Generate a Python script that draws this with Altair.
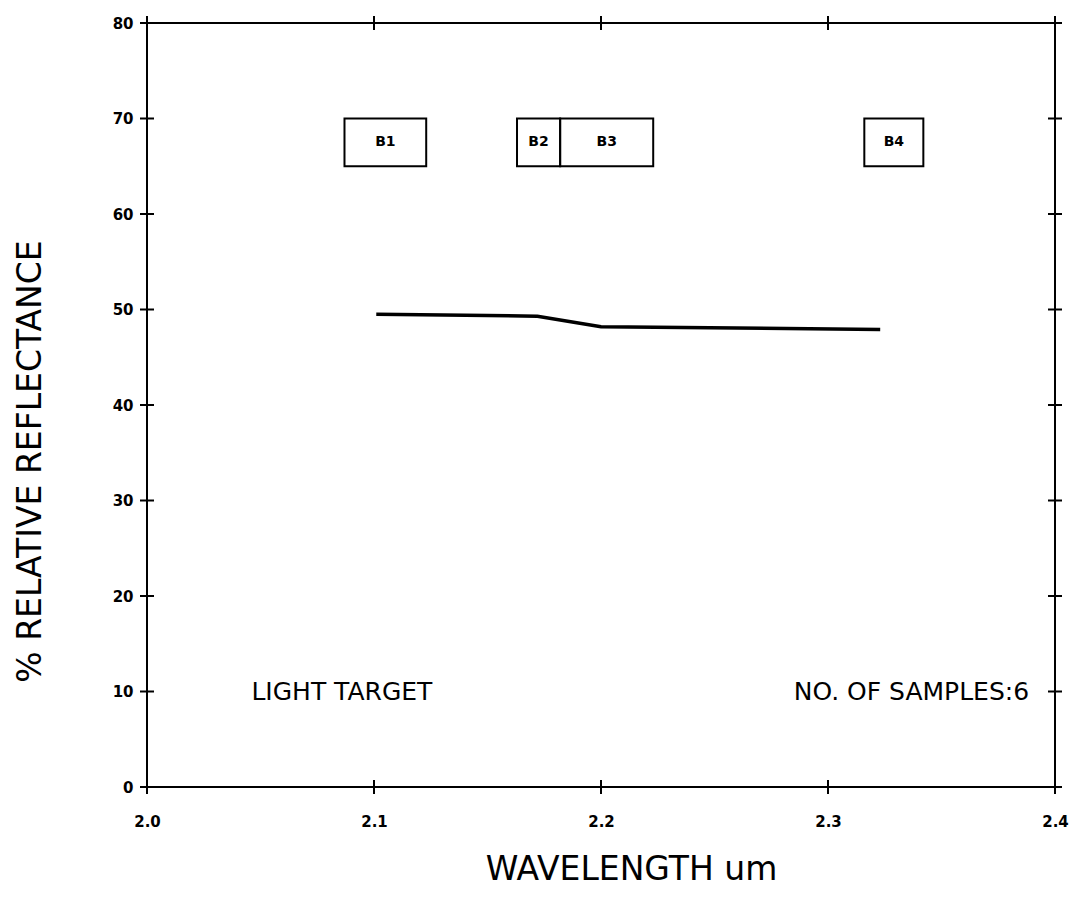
import altair as alt
import pandas as pd

# spectrum (wavelength in um, % relative reflectance)
wavelength = [2.101, 2.172, 2.200, 2.323]
reflectance = [49.5, 49.3, 48.2, 47.9]

# band boxes
band_names = ["B1", "B2", "B3", "B4"]
band_start = [2.087, 2.163, 2.182, 2.316]
band_end = [2.123, 2.182, 2.223, 2.342]
band_low = [65, 65, 65, 65]
band_high = [70, 70, 70, 70]

# annotations
left_note = ["LIGHT TARGET"]
left_note_x = [2.046]
left_note_y = [10]
right_note = ["NO. OF SAMPLES:6"]
right_note_x = [2.3886]
right_note_y = [10]

# axes
x_ticks = [2.0, 2.1, 2.2, 2.3, 2.4]
y_ticks = [0, 10, 20, 30, 40, 50, 60, 70, 80]
x_domain = [2.0, 2.4]
y_domain = [0, 80]

FONT = "DejaVu Sans"

line_df = pd.DataFrame({"x": wavelength, "y": reflectance})
band_df = pd.DataFrame({
    "name": band_names, "x": band_start, "x2": band_end,
    "y": band_low, "y2": band_high,
})
band_df["xc"] = (band_df["x"] + band_df["x2"]) / 2
band_df["yc"] = (band_df["y"] + band_df["y2"]) / 2
left_df = pd.DataFrame({"text": left_note, "x": left_note_x, "y": left_note_y})
right_df = pd.DataFrame({"text": right_note, "x": right_note_x, "y": right_note_y})

lr_ticks = pd.DataFrame(
    [{"x": xv, "y": yv} for yv in y_ticks for xv in (x_domain[0], x_domain[1])]
)
tb_ticks = pd.DataFrame(
    [{"x": xv, "y": yv} for xv in x_ticks for yv in (y_domain[0], y_domain[1])]
)

x_scale = alt.Scale(domain=x_domain, nice=False, zero=False)
y_scale = alt.Scale(domain=y_domain, nice=False, zero=False)

x_axis = alt.Axis(
    values=x_ticks, format=".1f", tickSize=0, domain=False, grid=False,
    labelFont=FONT, labelFontSize=15, labelFontWeight="bold", labelColor="black",
    labelPadding=27, labelFlush=False,
    title="WAVELENGTH um", titleFont=FONT, titleFontSize=33, titleFontWeight="normal",
    titleColor="black", titleX=484, titleY=92, titleAlign="center",
    titleBaseline="alphabetic",
)
y_axis = alt.Axis(
    values=y_ticks, format="d", tickSize=0, domain=False, grid=False,
    labelFont=FONT, labelFontSize=15, labelFontWeight="bold", labelColor="black",
    labelPadding=14, labelFlush=False,
    title="% RELATIVE REFLECTANCE", titleFont=FONT, titleFontSize=33,
    titleFontWeight="normal", titleColor="black", titleX=-117, titleY=438,
    titleAngle=270, titleAlign="center", titleBaseline="middle",
)


def X(field="x"):
    return alt.X(f"{field}:Q", scale=x_scale, axis=x_axis)


def Y(field="y"):
    return alt.Y(f"{field}:Q", scale=y_scale, axis=y_axis)


line = alt.Chart(line_df).mark_line(color="black", strokeWidth=3.5).encode(
    x=X(), y=Y()
)

boxes = alt.Chart(band_df).mark_rect(
    fill="white", fillOpacity=0, stroke="black", strokeWidth=2
).encode(x=X(), x2="x2:Q", y=Y(), y2="y2:Q")

box_labels = alt.Chart(band_df).mark_text(
    font=FONT, fontSize=14, fontWeight="bold", color="black",
    align="center", baseline="middle",
).encode(x=X("xc"), y=Y("yc"), text="name:N")

notes_left = alt.Chart(left_df).mark_text(
    font=FONT, fontSize=25, color="black", baseline="middle", align="left",
).encode(x=X(), y=Y(), text="text:N")

notes_right = alt.Chart(right_df).mark_text(
    font=FONT, fontSize=25, color="black", baseline="middle", align="right",
).encode(x=X(), y=Y(), text="text:N")

ticks_lr = alt.Chart(lr_ticks).mark_tick(
    orient="horizontal", size=14, thickness=2, color="black", opacity=1
).encode(x=X(), y=Y())

ticks_tb = alt.Chart(tb_ticks).mark_tick(
    orient="vertical", size=14, thickness=2, color="black", opacity=1
).encode(x=X(), y=Y())

chart = (
    alt.layer(boxes, box_labels, line, notes_left, notes_right, ticks_lr, ticks_tb)
    .properties(
        width=908, height=764,
        autosize=alt.AutoSizeParams(type="none"),
        padding={"left": 139, "top": 15, "right": 16, "bottom": 103},
        background="white",
    )
    .configure_view(stroke="black", strokeWidth=2)
)

chart.save("out.html", embed_options={"renderer": "svg", "actions": False})
